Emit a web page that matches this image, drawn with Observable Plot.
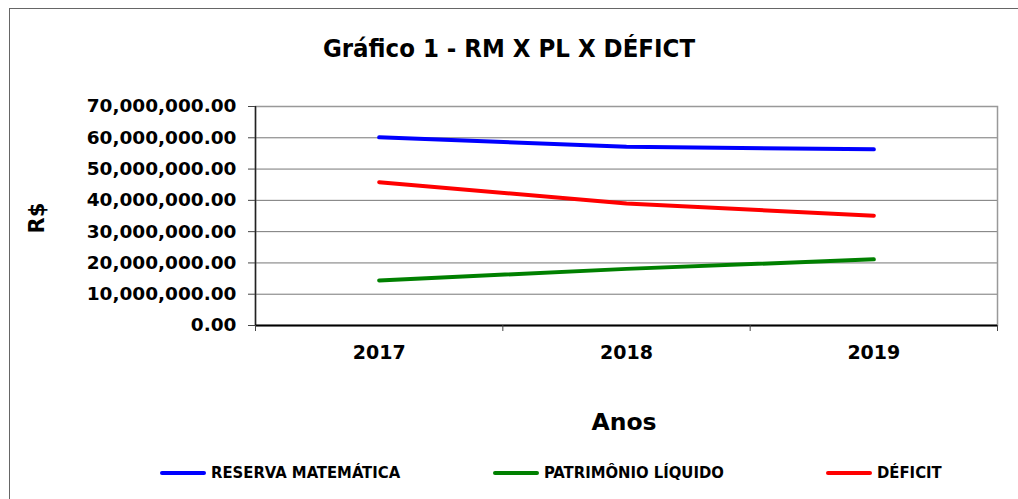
<!DOCTYPE html>
<html>
<head>
<meta charset="utf-8">
<script src="https://cdn.jsdelivr.net/npm/d3@7"></script>
<script src="https://cdn.jsdelivr.net/npm/@observablehq/plot@0.6"></script>
<style>
  html, body { margin: 0; padding: 0; background: #fff; }
  #wrap { position: relative; width: 1018px; height: 499px; overflow: hidden; }
  #frame { position: absolute; left: 9px; top: 8px; width: 1100px; height: 600px; border: 1px solid #666; box-sizing: border-box; }
  .t { position: absolute; font-weight: bold; color: #000; white-space: nowrap; }
  .narrow { font-family: "DejaVu Sans Condensed", "Liberation Sans Narrow", "Liberation Sans", sans-serif; font-stretch: condensed; }
  .wide { font-family: "DejaVu Sans", Verdana, sans-serif; }
  #title { left: 0; width: 1018px; text-align: center; top: 48px; font-size: 25.5px; transform: translateY(-50%); }
  #ylab { left: 37px; top: 218px; font-size: 21px; transform: translate(-50%, -50%) rotate(-90deg); }
  #xlab { left: 624px; top: 422px; font-size: 23.5px; transform: translate(-50%, -50%); }
  #legend { position: absolute; top: 463px; left: 0; width: 1018px; height: 22px; }
  .item { position: absolute; display: flex; align-items: center; font-size: 16.5px; }
  .sw { width: 46px; height: 4px; border-radius: 2px; margin-right: 5px; }
  #chart { position: absolute; left: 0; top: 0; }
</style>
</head>
<body>
<div id="wrap">
  <div id="frame"></div>
  <div id="chart"></div>
  <div id="title" class="t narrow">Gráfico 1 - RM X PL X DÉFICT</div>
  <div id="ylab" class="t wide">R$</div>
  <div id="xlab" class="t wide">Anos</div>
  <div id="legend"></div>
</div>
<script>
const years = [2017, 2018, 2019];
const seriesNames = ["RESERVA MATEMÁTICA", "PATRIMÔNIO LÍQUIDO", "DÉFICIT"];
const seriesColors = ["#0000ff", "#008000", "#ff0000"];
const reservaMatematica = [60150000, 57100000, 56300000];
const patrimonioLiquido = [14400000, 18100000, 21150000];
const deficit = [45800000, 39000000, 35100000];
const yTicks = [0, 10000000, 20000000, 30000000, 40000000, 50000000, 60000000, 70000000];

const allValues = [reservaMatematica, patrimonioLiquido, deficit];
const data = [];
seriesNames.forEach((name, i) => {
  years.forEach((yr, j) => data.push({ serie: name, year: yr, value: allValues[i][j] }));
});
const boundaries = [years[0] - 0.5, ...years.map(y => y + 0.5)];

const font = '"DejaVu Sans", Verdana, sans-serif';

const chart = Plot.plot({
  width: 1018,
  height: 499,
  marginLeft: 255,
  marginRight: 21,
  marginTop: 106,
  marginBottom: 174,
  style: { fontFamily: font, fontSize: "18.5px", fontWeight: "bold", color: "#000", background: "transparent" },
  x: { type: "linear", domain: [years[0] - 0.5, years[years.length - 1] + 0.5] },
  y: { domain: [0, 70000000] },
  color: { domain: seriesNames, range: seriesColors },
  marks: [
    Plot.ruleY(yTicks, { stroke: "#777", strokeWidth: 1 }),
    Plot.frame({ stroke: "#999", strokeWidth: 1.5 }),
    Plot.ruleX([years[0] - 0.5], { stroke: "#222", strokeWidth: 1.5 }),
    Plot.ruleY([0], { stroke: "#000", strokeWidth: 2 }),
    Plot.axisY({ ticks: yTicks, tickFormat: d3.format(",.2f"), tickSize: 7, tickPadding: 12, label: null, stroke: "#444", fontSize: 18.5 }),
    Plot.axisX({ ticks: boundaries, tickFormat: () => "", tickSize: 6, label: null, stroke: "#444" }),
    Plot.axisX({ ticks: years, tickFormat: d3.format("d"), tickSize: 0, tickPadding: 20, label: null, fontSize: 19 }),
    Plot.line(data, { x: "year", y: "value", z: "serie", stroke: "serie", strokeWidth: 4, strokeLinecap: "round" })
  ]
});
document.getElementById("chart").appendChild(chart);

const legend = document.getElementById("legend");
const legendX = [160, 493, 826];
seriesNames.forEach((name, i) => {
  const it = document.createElement("div");
  it.className = "item t narrow";
  it.style.left = legendX[i] + "px";
  it.innerHTML = `<span class="sw" style="background:${seriesColors[i]}"></span><span>${name}</span>`;
  legend.appendChild(it);
});
</script>
</body>
</html>
